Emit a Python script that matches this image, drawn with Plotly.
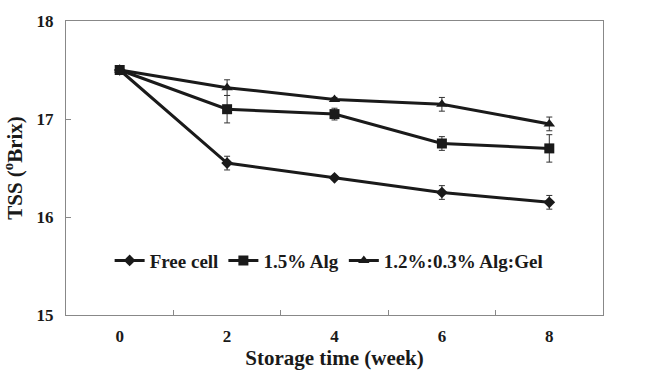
import plotly.graph_objects as go

weeks = ["0", "2", "4", "6", "8"]
free_cell = [17.5, 16.55, 16.40, 16.25, 16.15]
free_cell_err = [0, 0.07, 0.02, 0.07, 0.07]
alg = [17.5, 17.10, 17.05, 16.75, 16.70]
alg_err = [0, 0.14, 0.06, 0.07, 0.14]
alg_gel = [17.5, 17.32, 17.20, 17.15, 16.95]
alg_gel_err = [0, 0.08, 0.02, 0.07, 0.07]

series = [
    ("Free cell", free_cell, free_cell_err, "diamond", 9),
    ("1.5% Alg", alg, alg_err, "square", 10),
    ("1.2%:0.3% Alg:Gel", alg_gel, alg_gel_err, "triangle-up", 10),
]

fig = go.Figure()
for name, vals, errs, sym, sz in series:
    fig.add_trace(go.Scatter(
        x=weeks, y=vals, name=name, mode="lines+markers",
        line=dict(color="#1a1a1a", width=3),
        marker=dict(symbol=sym, size=sz, color="#1a1a1a"),
        error_y=dict(type="data", array=errs, visible=True, thickness=1, width=3, color="#333333"),
    ))

font = "Liberation Serif, Times New Roman, serif"
fig.update_layout(
    width=661, height=380,
    margin=dict(l=66, r=58, t=12, b=65),
    paper_bgcolor="white", plot_bgcolor="white",
    font=dict(family=font, color="#1a1a1a"),
    showlegend=True,
    legend=dict(orientation="h", x=0.49, xanchor="center", y=0.185, yanchor="middle",
                font=dict(size=19, family=font, weight="bold"),
                bgcolor="rgba(0,0,0,0)", itemwidth=30, tracegroupgap=0),
    xaxis=dict(type="category", range=[-0.5, 4.5], tickson="boundaries",
               ticks="inside", ticklen=5, tickcolor="#888888",
               showline=True, linecolor="#888888", linewidth=1, mirror=True,
               showgrid=False, zeroline=False, ticklabelstandoff=6,
               tickfont=dict(size=17, family=font, weight="bold"),
               title=dict(text="Storage time (week)", font=dict(size=21, family=font, weight="bold"), standoff=4)),
    yaxis=dict(range=[15, 18], dtick=1, tick0=15,
               ticks="inside", ticklen=5, tickcolor="#888888",
               showline=True, linecolor="#888888", linewidth=1, mirror=True,
               showgrid=False, zeroline=False, ticklabelstandoff=8,
               tickfont=dict(size=17, family=font, weight="bold"),
               title=dict(text="TSS (<sup>o</sup>Brix)", font=dict(size=21, family=font, weight="bold"), standoff=10)),
)

fig.write_html("out.html")
